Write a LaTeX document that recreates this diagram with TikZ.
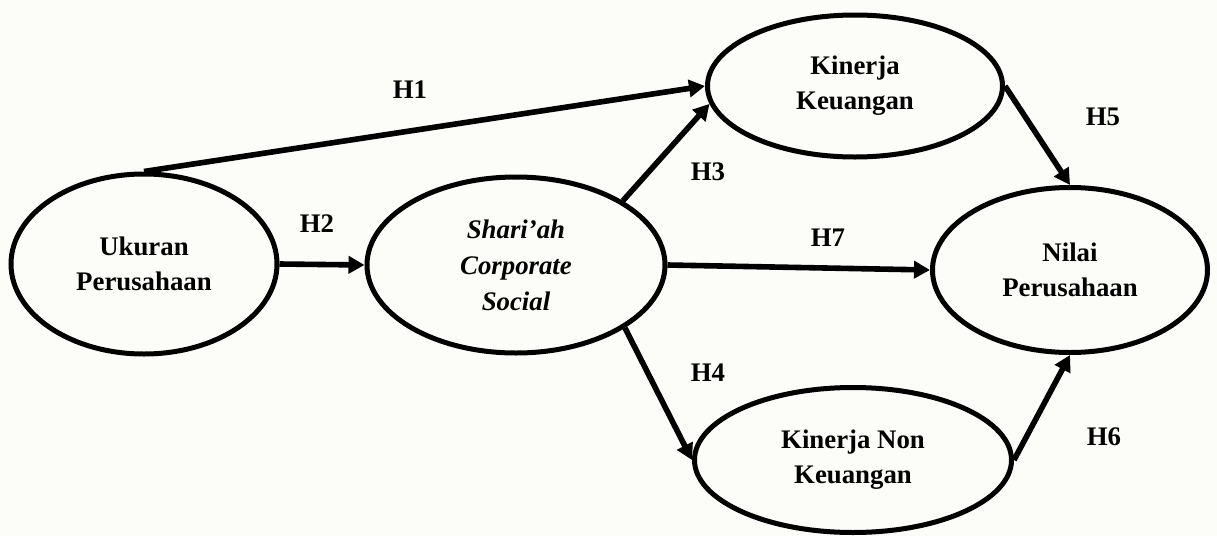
\documentclass[tikz,border=0pt]{standalone}
\usepackage{fontspec}
\setmainfont{Liberation Serif}
\usetikzlibrary{shapes.geometric, arrows.meta}
\definecolor{Ink}{HTML}{000000}
\definecolor{Paper}{HTML}{FCFDF9}
\tikzset{
    varnode/.style={ellipse, draw=Ink, line width=2.5pt, align=center, inner sep=0pt, text=Ink, font=\fontsize{13.4}{17.5}\selectfont\bfseries},
    linkarrow/.style={-{Triangle[length=8pt, width=8.5pt]}, line width=2.8pt, color=Ink},
    hlabel/.style={font=\fontsize{13.4}{16}\selectfont\bfseries, text=Ink},
}
\begin{document}
\begin{tikzpicture}[x=0.5pt, y=-0.5pt]
    % Latar
    \fill[Paper] (0,0) rectangle (1217,536);
    \useasboundingbox (0,0) rectangle (1217,536);

    % Variabel
    \node[varnode, minimum width=133pt, minimum height=90pt] (ukuran) at (144,264) {Ukuran\\Perusahaan};
    \node[varnode, minimum width=149pt, minimum height=88pt, font=\fontsize{13.4}{18}\selectfont\bfseries\itshape] (shariah) at (516,265) {Shari’ah\\Corporate\\Social};
    \node[varnode, minimum width=147.5pt, minimum height=71pt] (kinerja) at (855,86) {Kinerja\\Keuangan};
    \node[varnode, minimum width=137.5pt, minimum height=82.5pt] (nilai) at (1070,270) {Nilai\\Perusahaan};
    \node[varnode, minimum width=158.5pt, minimum height=72.5pt] (nonkeu) at (853,460) {Kinerja Non\\Keuangan};

    % Hubungan antar variabel
    \draw[linkarrow] (ukuran.north) -- (kinerja.west);
    \draw[linkarrow] (ukuran.east) -- (shariah.west);
    \draw[linkarrow] (shariah.31) -- (kinerja.187);
    \draw[linkarrow] (shariah.east) -- (nilai.west);
    \draw[linkarrow] (shariah.-30) -- (nonkeu.west);
    \draw[linkarrow] (kinerja.east) -- (nilai.north);
    \draw[linkarrow] (nonkeu.east) -- (nilai.south);

    % Label hipotesis
    \node[hlabel] (h1) at (410,90) {H1};
    \node[hlabel] (h2) at (317,224) {H2};
    \node[hlabel] (h3) at (708,172) {H3};
    \node[hlabel] (h7) at (828,238) {H7};
    \node[hlabel] (h4) at (708,373) {H4};
    \node[hlabel] (h5) at (1103,117) {H5};
    \node[hlabel] (h6) at (1104,437) {H6};
\end{tikzpicture}
\end{document}
